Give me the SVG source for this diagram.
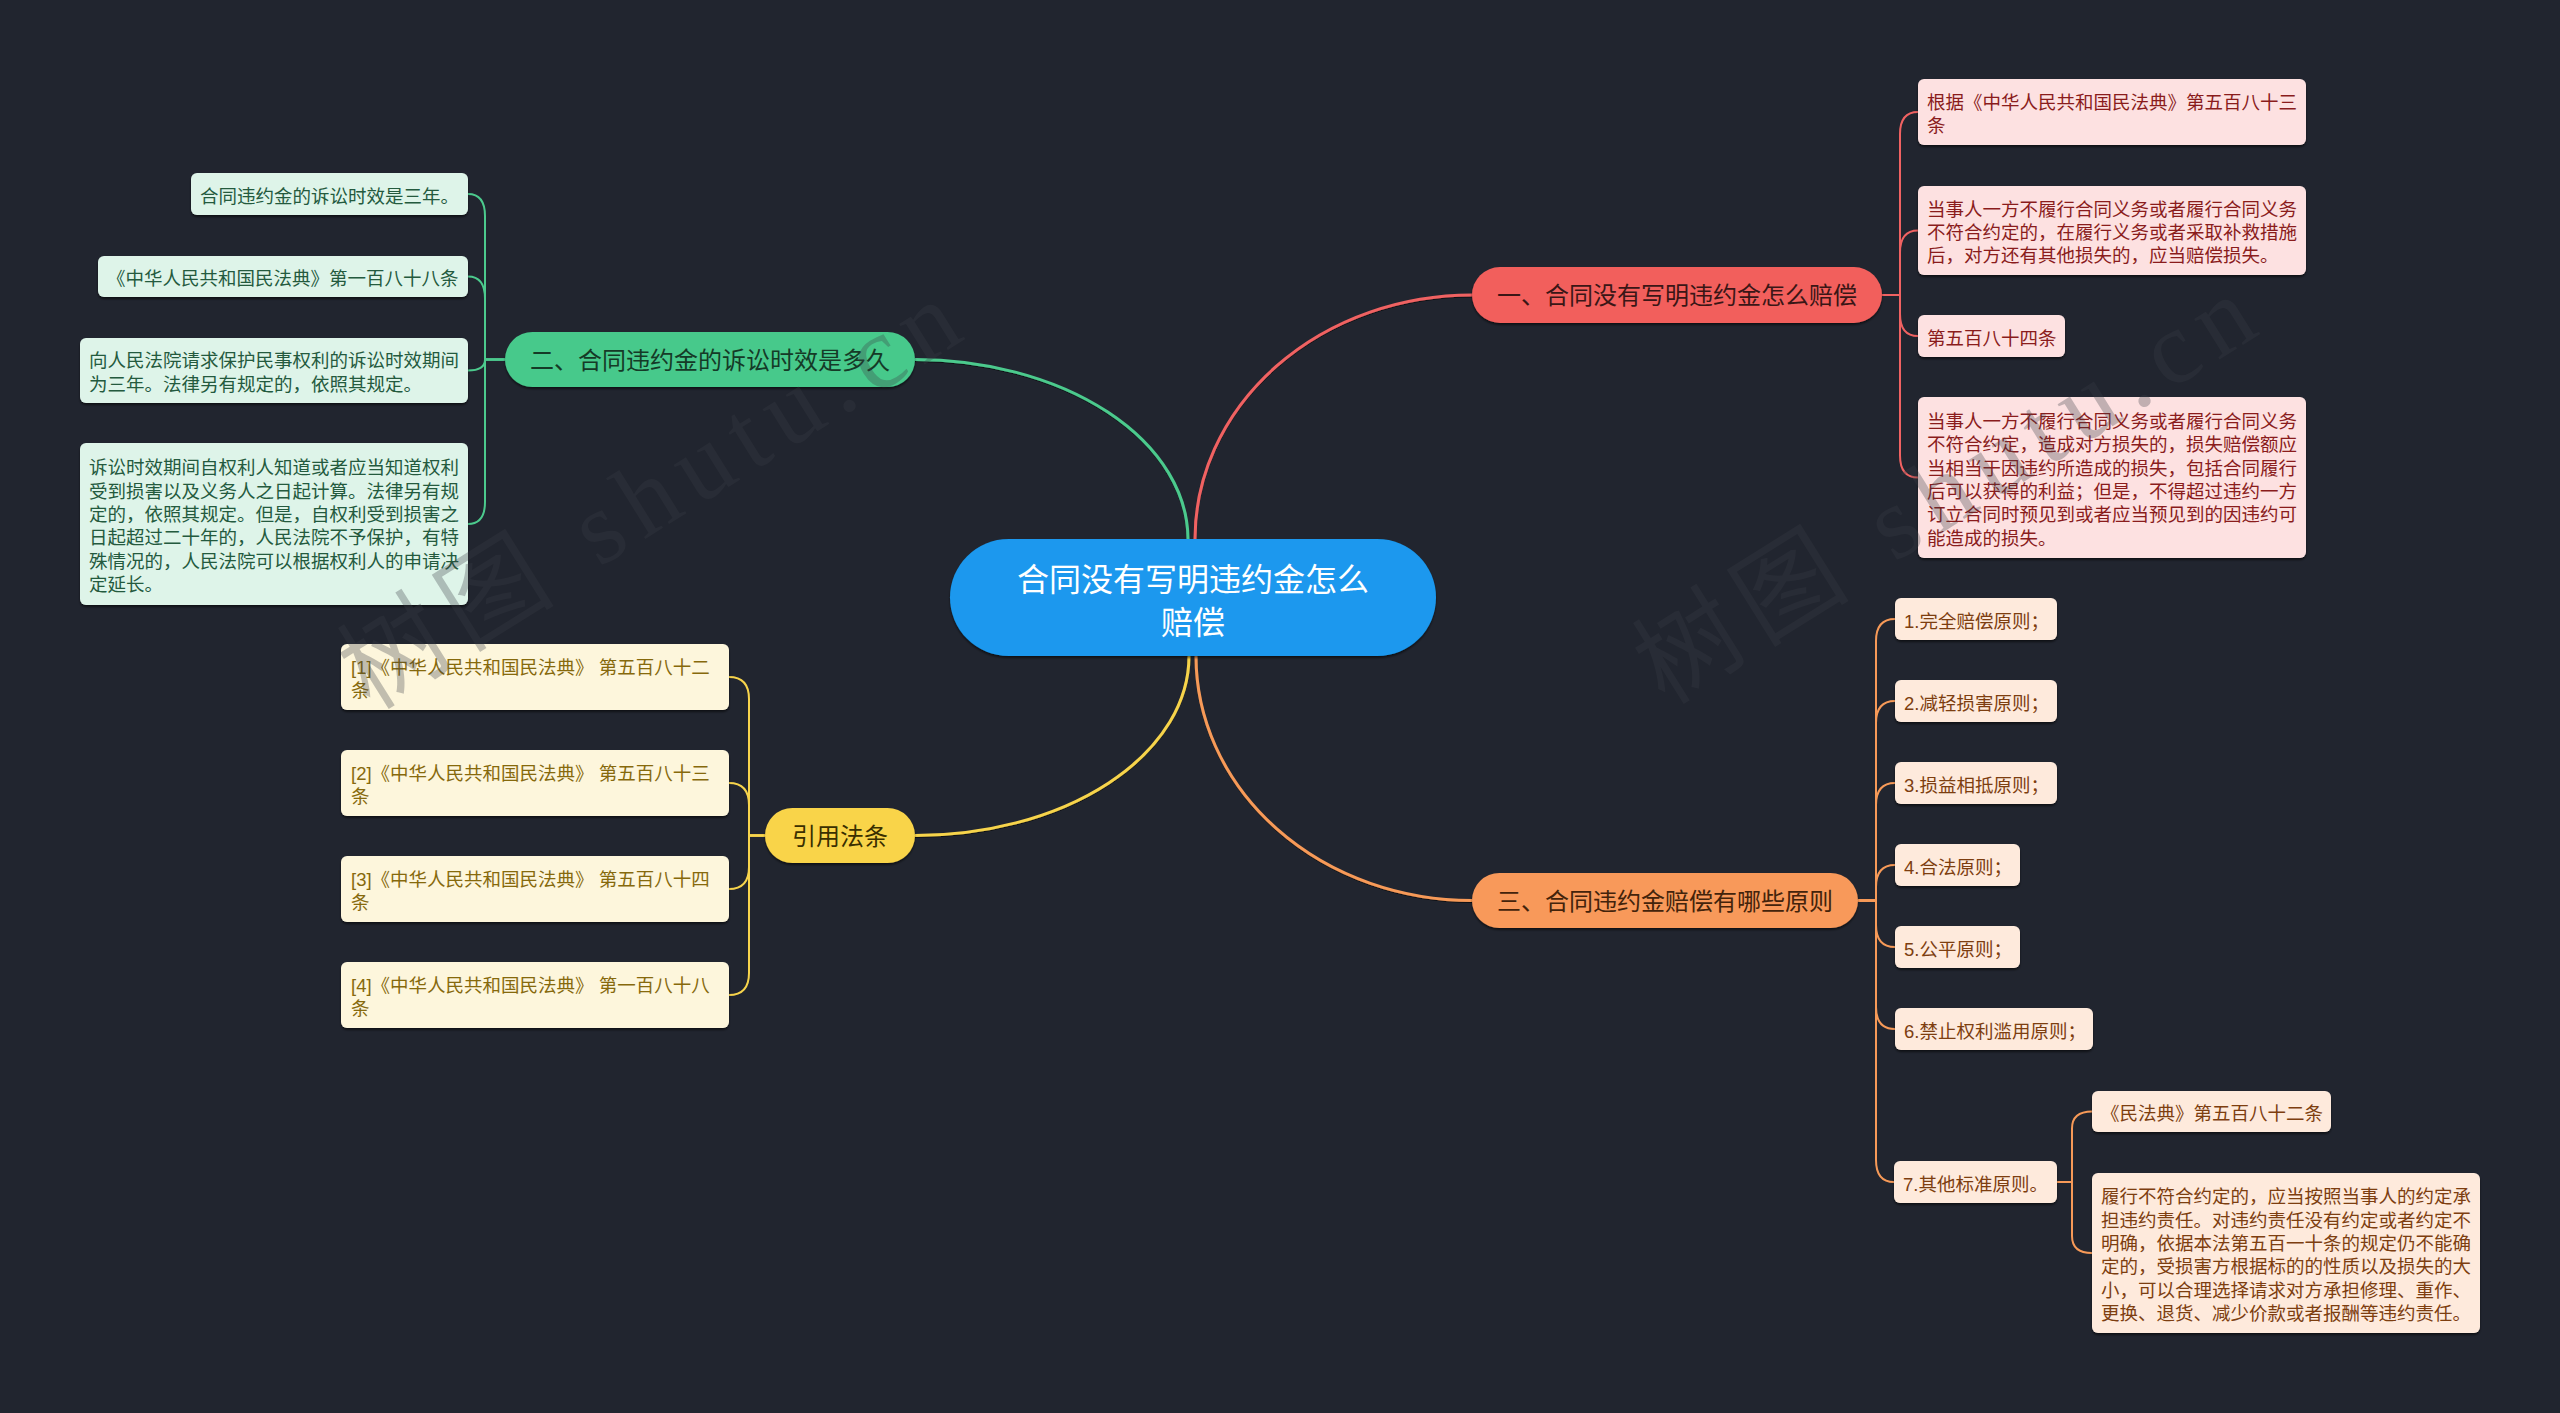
<svg xmlns="http://www.w3.org/2000/svg" width="2560" height="1413" viewBox="0 0 2560 1413">
<defs>
<filter id="sh" x="-10%" y="-20%" width="120%" height="150%">
<feDropShadow dx="0" dy="2" stdDeviation="1.2" flood-color="#000" flood-opacity="0.55"/>
</filter>
<filter id="lsh" x="-5%" y="-5%" width="110%" height="110%">
<feDropShadow dx="0" dy="1" stdDeviation="0.6" flood-color="#000" flood-opacity="0.6"/>
</filter>
<style>
text{font-family:"Liberation Sans","Noto Sans CJK SC",sans-serif;}
.c{fill:#fff;font-size:32px;text-anchor:middle;}
.m{font-size:24px;text-anchor:middle;}
.s{font-size:18.5px;}
.cn{fill:none;stroke-width:3;filter:url(#lsh);}
.sub{fill:none;stroke-width:2;}
.red{stroke:#f06262;} .grn{stroke:#4cca8d;} .yel{stroke:#f7d44c;} .org{stroke:#f79a58;}
.rb{fill:#fde1e1;filter:url(#sh);} .rt{fill:#8a1c1c;}
.gb{fill:#def4e9;filter:url(#sh);} .gt{fill:#245a3e;}
.yb{fill:#fdf6dc;filter:url(#sh);} .yt{fill:#86690c;}
.ob{fill:#feeadc;filter:url(#sh);} .ot{fill:#7d3e10;}
.wm{font-family:"Liberation Serif","Noto Sans CJK SC",serif;font-size:104px;letter-spacing:12px;fill:#3a3e46;opacity:0.3;}
</style>
</defs>
<rect width="2560" height="1413" fill="#21252f"/>

<g id="connectors">
<path class="cn grn" d="M1188 539 A273 180 0 0 0 915 359.5"/>
<path class="cn red" d="M1195 539 A277 244 0 0 1 1472 295"/>
<path class="cn yel" d="M1189 656 A274 179.5 0 0 1 915 835.5"/>
<path class="cn org" d="M1196 656 A276 244.5 0 0 0 1472 900.5"/>

<path class="sub red" d="M1882 295 H1900 V134 Q1900 112 1918 112"/>
<path class="sub red" d="M1882 295 H1900 V252.5 Q1900 230.5 1918 230.5"/>
<path class="sub red" d="M1882 295 H1900 V314 Q1900 336 1918 336"/>
<path class="sub red" d="M1882 295 H1900 V455.5 Q1900 477.5 1918 477.5"/>

<path class="sub grn" d="M505 359.5 H485 V216 Q485 194 468 194"/>
<path class="sub grn" d="M505 359.5 H485 V298.5 Q485 276.5 468 276.5"/>
<path class="sub grn" d="M505 359.5 H485 V359.5 Q485 370.5 468 370.5"/>
<path class="sub grn" d="M505 359.5 H485 V502 Q485 524 468 524"/>

<path class="sub yel" d="M765 835.5 H749 V699 Q749 677 729 677"/>
<path class="sub yel" d="M765 835.5 H749 V805 Q749 783 729 783"/>
<path class="sub yel" d="M765 835.5 H749 V867 Q749 889 729 889"/>
<path class="sub yel" d="M765 835.5 H749 V973 Q749 995 729 995"/>

<path class="sub org" d="M1858 900.5 H1876 V641 Q1876 619 1895 619"/>
<path class="sub org" d="M1858 900.5 H1876 V723 Q1876 701 1895 701"/>
<path class="sub org" d="M1858 900.5 H1876 V805 Q1876 783 1895 783"/>
<path class="sub org" d="M1858 900.5 H1876 V887 Q1876 865 1895 865"/>
<path class="sub org" d="M1858 900.5 H1876 V925 Q1876 947 1895 947"/>
<path class="sub org" d="M1858 900.5 H1876 V1007 Q1876 1029 1895 1029"/>
<path class="sub org" d="M1858 900.5 H1876 V1160 Q1876 1182 1894 1182"/>

<path class="sub org" d="M2057 1182 H2072 V1128.5 Q2072 1111.5 2092 1111.5"/>
<path class="sub org" d="M2057 1182 H2072 V1236 Q2072 1253 2092 1253"/>
</g>

<g id="center">
<rect x="950" y="539" width="486" height="117" rx="58.5" fill="#1a98ee" filter="url(#sh)"/>
<text class="c" x="1193"><tspan x="1193" y="590.5">合同没有写明违约金怎么</tspan><tspan x="1193" y="633.5">赔偿</tspan></text>
</g>

<g id="b1">
<rect x="1472" y="267" width="410" height="56" rx="28" fill="#f25f5c" filter="url(#sh)"/>
<text class="m" x="1677" y="304" fill="#3a1616">一、合同没有写明违约金怎么赔偿</text>
</g>
<g id="b1-1">
<rect class="rb" x="1918" y="79" width="388" height="66" rx="6"/>
<text class="s rt"><tspan x="1927" y="109">根据《中华人民共和国民法典》第五百八十三</tspan><tspan x="1927" y="132.3">条</tspan></text>
</g>
<g id="b1-2">
<rect class="rb" x="1918" y="186" width="388" height="89" rx="6"/>
<text class="s rt"><tspan x="1927" y="215.7">当事人一方不履行合同义务或者履行合同义务</tspan><tspan x="1927" y="239">不符合约定的，在履行义务或者采取补救措施</tspan><tspan x="1927" y="262.3">后，对方还有其他损失的，应当赔偿损失。</tspan></text>
</g>
<g id="b1-3">
<rect class="rb" x="1918" y="315" width="147" height="42" rx="6"/>
<text class="s rt" x="1927" y="344.5">第五百八十四条</text>
</g>
<g id="b1-4">
<rect class="rb" x="1918" y="397" width="388" height="161" rx="6"/>
<text class="s rt"><tspan x="1927" y="428">当事人一方不履行合同义务或者履行合同义务</tspan><tspan x="1927" y="451.3">不符合约定，造成对方损失的，损失赔偿额应</tspan><tspan x="1927" y="474.6">当相当于因违约所造成的损失，包括合同履行</tspan><tspan x="1927" y="497.9">后可以获得的利益；但是，不得超过违约一方</tspan><tspan x="1927" y="521.2">订立合同时预见到或者应当预见到的因违约可</tspan><tspan x="1927" y="544.5">能造成的损失。</tspan></text>
</g>

<g id="b2">
<rect x="505" y="332" width="410" height="55" rx="27.5" fill="#47c98b" filter="url(#sh)"/>
<text class="m" x="710" y="368.5" fill="#153a27">二、合同违约金的诉讼时效是多久</text>
</g>
<g id="b2-1">
<rect class="gb" x="191" y="173" width="277" height="42" rx="6"/>
<text class="s gt" x="200" y="202.5">合同违约金的诉讼时效是三年。</text>
</g>
<g id="b2-2">
<rect class="gb" x="98" y="256" width="370" height="41" rx="6"/>
<text class="s gt" x="107" y="285">《中华人民共和国民法典》第一百八十八条</text>
</g>
<g id="b2-3">
<rect class="gb" x="80" y="338" width="388" height="65" rx="6"/>
<text class="s gt"><tspan x="89" y="367.4">向人民法院请求保护民事权利的诉讼时效期间</tspan><tspan x="89" y="390.7">为三年。法律另有规定的，依照其规定。</tspan></text>
</g>
<g id="b2-4">
<rect class="gb" x="80" y="443" width="388" height="162" rx="6"/>
<text class="s gt"><tspan x="89" y="474.3">诉讼时效期间自权利人知道或者应当知道权利</tspan><tspan x="89" y="497.6">受到损害以及义务人之日起计算。法律另有规</tspan><tspan x="89" y="520.9">定的，依照其规定。但是，自权利受到损害之</tspan><tspan x="89" y="544.2">日起超过二十年的，人民法院不予保护，有特</tspan><tspan x="89" y="567.5">殊情况的，人民法院可以根据权利人的申请决</tspan><tspan x="89" y="590.8">定延长。</tspan></text>
</g>

<g id="b4">
<rect x="765" y="808" width="150" height="55" rx="27.5" fill="#f9d449" filter="url(#sh)"/>
<text class="m" x="840" y="844.5" fill="#3a2f00">引用法条</text>
</g>
<g id="b4-1">
<rect class="yb" x="341" y="644" width="388" height="66" rx="6"/>
<text class="s yt"><tspan x="351" y="673.9">[1]《中华人民共和国民法典》 第五百八十二</tspan><tspan x="351" y="697.2">条</tspan></text>
</g>
<g id="b4-2">
<rect class="yb" x="341" y="750" width="388" height="66" rx="6"/>
<text class="s yt"><tspan x="351" y="779.9">[2]《中华人民共和国民法典》 第五百八十三</tspan><tspan x="351" y="803.2">条</tspan></text>
</g>
<g id="b4-3">
<rect class="yb" x="341" y="856" width="388" height="66" rx="6"/>
<text class="s yt"><tspan x="351" y="885.9">[3]《中华人民共和国民法典》 第五百八十四</tspan><tspan x="351" y="909.2">条</tspan></text>
</g>
<g id="b4-4">
<rect class="yb" x="341" y="962" width="388" height="66" rx="6"/>
<text class="s yt"><tspan x="351" y="991.9">[4]《中华人民共和国民法典》 第一百八十八</tspan><tspan x="351" y="1015.2">条</tspan></text>
</g>

<g id="b3">
<rect x="1472" y="873" width="386" height="55" rx="27.5" fill="#f8995a" filter="url(#sh)"/>
<text class="m" x="1665" y="909.5" fill="#43230b">三、合同违约金赔偿有哪些原则</text>
</g>
<g id="b3-1">
<rect class="ob" x="1895" y="598" width="162" height="42" rx="6"/>
<text class="s ot" x="1904" y="627.5">1.完全赔偿原则；</text>
</g>
<g id="b3-2">
<rect class="ob" x="1895" y="680" width="162" height="42" rx="6"/>
<text class="s ot" x="1904" y="709.5">2.减轻损害原则；</text>
</g>
<g id="b3-3">
<rect class="ob" x="1895" y="762" width="162" height="42" rx="6"/>
<text class="s ot" x="1904" y="791.5">3.损益相抵原则；</text>
</g>
<g id="b3-4">
<rect class="ob" x="1895" y="844" width="125" height="42" rx="6"/>
<text class="s ot" x="1904" y="873.5">4.合法原则；</text>
</g>
<g id="b3-5">
<rect class="ob" x="1895" y="926" width="125" height="42" rx="6"/>
<text class="s ot" x="1904" y="955.5">5.公平原则；</text>
</g>
<g id="b3-6">
<rect class="ob" x="1895" y="1008" width="198" height="42" rx="6"/>
<text class="s ot" x="1904" y="1037.5">6.禁止权利滥用原则；</text>
</g>
<g id="b3-7">
<rect class="ob" x="1894" y="1161" width="163" height="42" rx="6"/>
<text class="s ot" x="1903" y="1190.5">7.其他标准原则。</text>
</g>
<g id="b3-7-1">
<rect class="ob" x="2092" y="1091" width="239" height="41" rx="6"/>
<text class="s ot" x="2101" y="1120">《民法典》第五百八十二条</text>
</g>
<g id="b3-7-2">
<rect class="ob" x="2092" y="1173" width="388" height="160" rx="6"/>
<text class="s ot"><tspan x="2101" y="1203.3">履行不符合约定的，应当按照当事人的约定承</tspan><tspan x="2101" y="1226.6">担违约责任。对违约责任没有约定或者约定不</tspan><tspan x="2101" y="1249.9">明确，依据本法第五百一十条的规定仍不能确</tspan><tspan x="2101" y="1273.2">定的，受损害方根据标的的性质以及损失的大</tspan><tspan x="2101" y="1296.5">小，可以合理选择请求对方承担修理、重作、</tspan><tspan x="2101" y="1319.8">更换、退货、减少价款或者报酬等违约责任。</tspan></text>
</g>

<g id="watermark">
<text class="wm" x="370" y="711" transform="rotate(-32 370 711)">树图 shutu.cn</text>
<text class="wm" x="1665" y="706" transform="rotate(-32 1665 706)">树图 shutu.cn</text>
</g>
</svg>
